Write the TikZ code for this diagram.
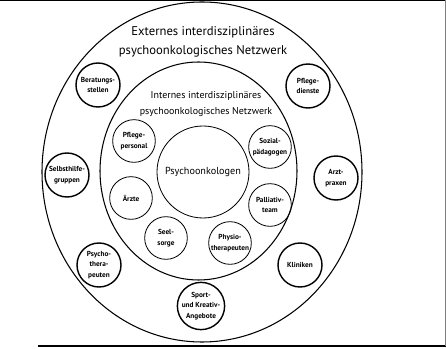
\documentclass[tikz,border=0pt]{standalone}
\usepackage{fontspec}
\setmainfont{PT Sans}
\begin{document}
\begin{tikzpicture}[
  x=0.03cm, y=-0.03cm,
  ring/.style={draw, line width=0.9pt},
  outer/.style={circle, draw, line width=1.2pt, minimum size=1.32cm, inner sep=0pt, align=center, font=\fontsize{6.2}{9}\selectfont\bfseries},
  inner/.style={circle, draw, line width=0.7pt, minimum size=1.28cm, inner sep=0pt, align=center, font=\fontsize{6.2}{9}\selectfont\bfseries},
  title/.style={align=center, inner sep=0pt}
]
\useasboundingbox (0,0) rectangle (446,349);
% frame lines of the page
\draw[line width=1pt] (0,0.5) -- (446,0.5);
\draw[line width=2.5pt] (38,346) -- (446,346);
\draw[gray, line width=0.5pt] (445,0) -- (445,346);

% the two networks
\draw[ring] (202,172) ellipse (160 and 170);
\draw[ring] (198.5,171) ellipse (98.5 and 109);

\node[title, font=\fontsize{10.8}{16}\selectfont] (extern) at (203,42) {Externes interdisziplinäres\\psychoonkologisches Netzwerk};
\node[title, font=\fontsize{8.5}{13}\selectfont] (intern) at (206,104) {Internes interdisziplinäres\\psychoonkologisches Netzwerk};

% internal network
\node[circle, draw, line width=0.7pt, minimum size=2.76cm, inner sep=0pt, font=\fontsize{8.7}{11}\selectfont] (psyonk) at (203,172) {Psychoonkologen};
\node[inner] (pflpers) at (134,141) {Pflege-\\personal};
\node[inner] (aerzte) at (131,198) {Ärzte};
\node[inner] (sozpaed) at (270,147) {Sozial-\\pädagogen};
\node[inner] (pallteam) at (270,205) {Palliativ-\\team};
\node[inner] (seelsorge) at (166,238) {Seel-\\sorge};
\node[inner] (physio) at (230,243) {Physio-\\therapeuten};

% external network
\node[outer] (beratung) at (98,85) {Beratungs-\\stellen};
\node[outer] (pfldienst) at (308,86) {Pflege-\\dienste};
\node[outer] (selbsthilfe) at (67,175) {Selbsthilfe-\\gruppen};
\node[outer] (arztpraxen) at (336,178) {Arzt-\\praxen};
\node[outer] (psychother) at (99,265) {Psycho-\\thera-\\peuten};
\node[outer] (kliniken) at (300,265) {Kliniken};
\node[outer] (sport) at (201,306) {Sport-\\und Kreativ-\\Angebote};
\end{tikzpicture}
\end{document}
